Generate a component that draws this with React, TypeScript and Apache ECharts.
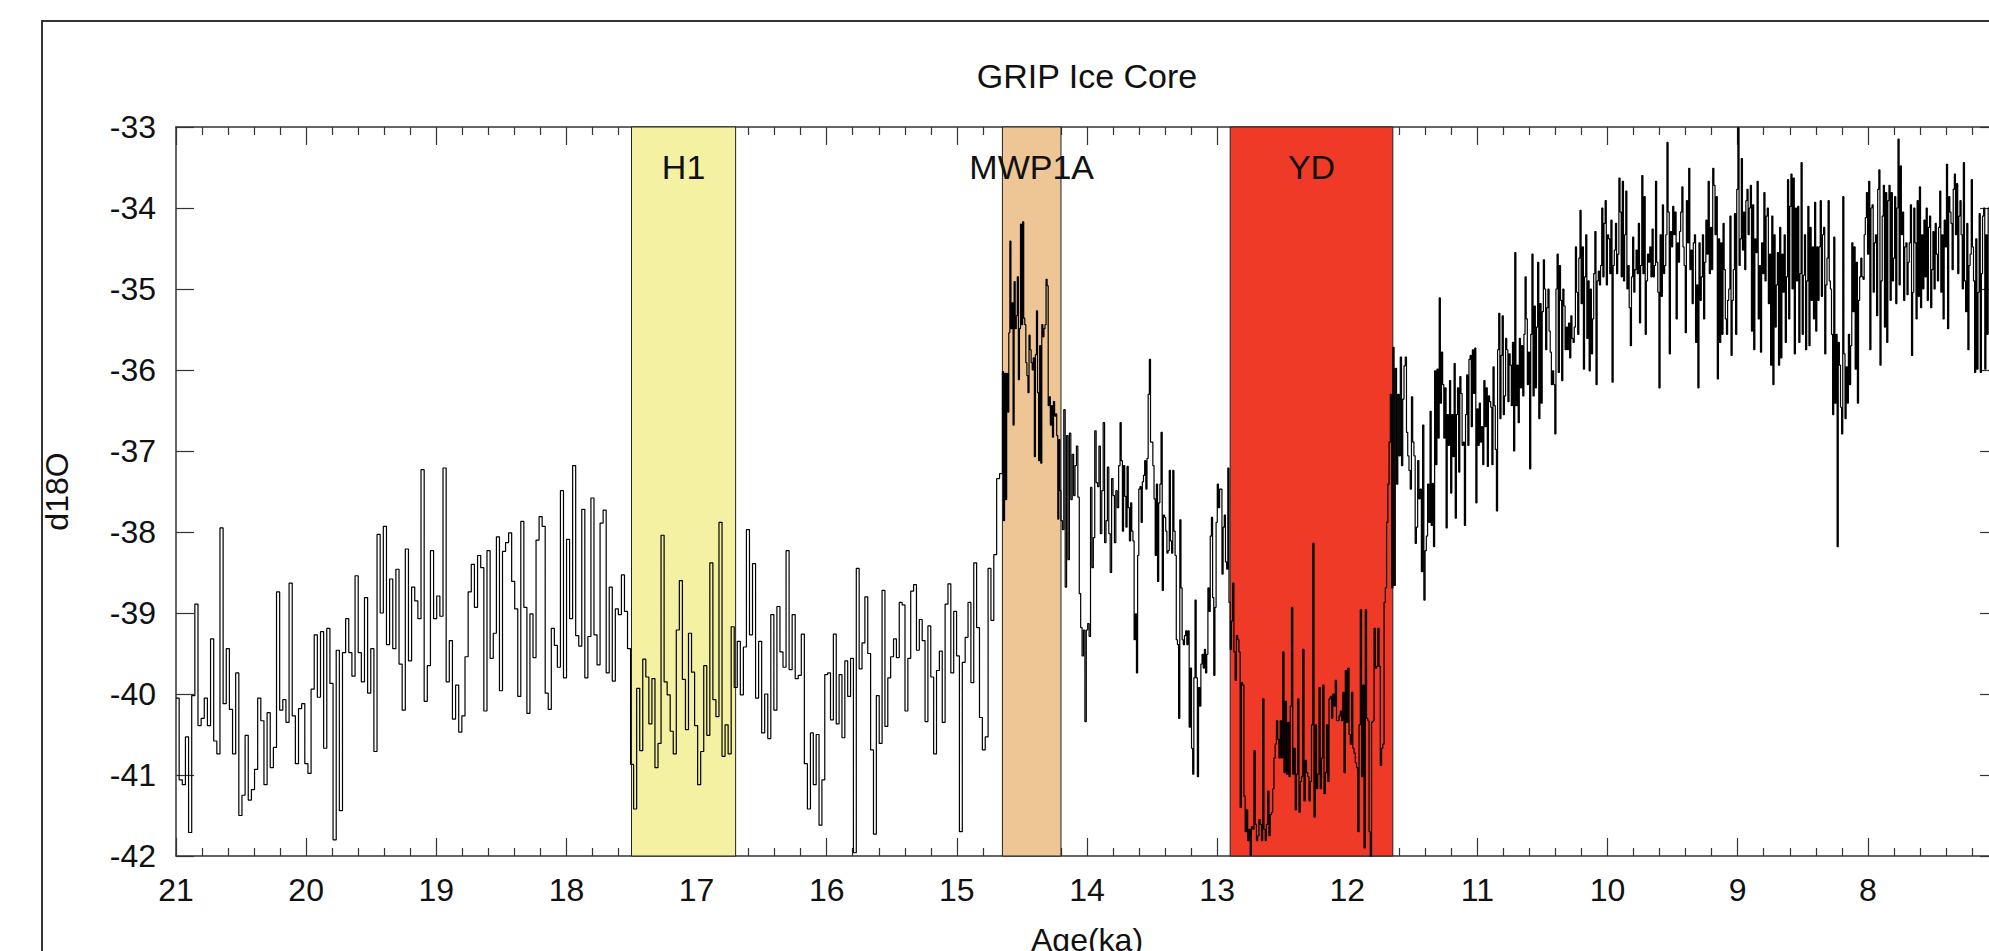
import React, { useEffect, useRef } from 'react';
import * as echarts from 'echarts';

const FONT = "'Liberation Sans', Arial, Helvetica, sans-serif";

// d18O values, grouped by age segment (ka, old -> young)
const segBounds = [21.0, 18.538, 16.125, 14.65, 14.2, 13.746, 12.9, 11.65, 11.364, 8.981, 7.067];

const segA = [
  -40.05, -41.06, -41.12, -40.53, -41.71, -40.02, -38.89, -40.39, -40.30, -40.05,
  -40.39, -39.32, -40.58, -40.74, -37.95, -40.12, -39.44, -40.19, -40.74, -39.74,
  -41.50, -41.25, -40.51, -41.31, -41.18, -40.93, -40.05, -40.33, -41.12, -40.23,
  -40.91, -40.66, -38.74, -40.20, -40.07, -40.35, -38.63, -40.27, -40.86, -40.18,
  -40.12, -40.86, -40.98, -39.94, -39.27, -40.04, -39.23, -40.67, -39.19, -39.87,
  -41.80, -39.46, -41.44, -39.49, -39.07, -39.49, -39.78, -38.54, -39.49, -39.85,
  -38.81, -39.99, -39.44, -40.71, -38.03, -39.00, -37.93, -39.39, -38.58, -39.44,
  -38.46, -39.63, -40.20, -38.21, -39.59, -38.68, -38.85, -39.07, -37.23, -40.09,
  -39.65, -38.23, -39.07, -38.79, -39.04, -37.21, -39.85, -39.34, -40.31, -39.89,
  -40.47, -40.27, -39.54, -38.74, -38.40, -38.93, -38.29, -38.44, -40.21, -38.23,
  -39.56, -39.25,
];

const segB = [
  -38.06, -39.96, -38.24, -38.13, -38.01, -38.61, -38.95, -40.03, -37.87, -38.93,
  -40.24, -39.01, -39.55, -38.10, -37.81, -37.93, -39.99, -40.19, -39.19, -39.40,
  -39.67, -37.49, -39.80, -38.09, -39.07, -37.18, -39.28, -39.41, -37.72, -39.80,
  -39.29, -37.58, -39.27, -39.64, -37.89, -37.73, -39.74, -38.68, -39.84, -38.95,
  -39.02, -38.53, -38.98, -39.44, -40.87, -41.42, -39.93, -40.70, -39.57, -39.79,
  -40.37, -39.81, -40.91, -40.61, -38.04, -39.85, -40.01, -40.46, -40.74, -39.21,
  -38.60, -39.82, -40.44, -39.25, -39.73, -40.39, -41.12, -40.71, -39.65, -40.51,
  -38.38, -40.07, -40.28, -37.88, -40.77, -40.38, -40.74, -39.17, -39.92, -39.35,
  -40.01, -39.42, -37.97, -39.27, -38.39, -40.05, -39.35, -40.48, -40.00, -40.55,
  -39.02, -40.20, -38.92, -39.48, -39.67, -38.23, -39.70, -39.02, -39.81, -39.77,
  -39.26, -40.86, -41.42,
];

const segC = [
  -40.48, -41.12, -40.50, -41.62, -41.06, -39.76, -39.74, -40.32, -39.26, -40.37,
  -39.76, -40.54, -39.59, -40.03, -39.56, -41.96, -38.45, -39.69, -39.37, -38.80,
  -39.50, -40.69, -41.73, -40.02, -40.61, -38.72, -40.40, -39.80, -39.54, -39.32,
  -39.55, -38.87, -38.90, -40.21, -39.56, -38.73, -38.65, -39.46, -39.08, -39.34,
  -40.34, -39.16, -39.79, -40.74, -39.71, -39.47, -40.35, -38.89, -38.64, -39.74,
  -38.98, -39.53, -41.70, -39.61, -39.30, -38.87, -39.86, -38.38, -39.18, -40.29,
  -40.69, -40.53, -38.45, -39.09, -38.28, -37.34, -37.28,
];

const segD = [
  -36.02, -37.86, -36.04, -37.60, -36.04, -36.52, -35.54, -34.41, -35.49, -35.17,
  -36.68, -34.91, -35.49, -35.33, -34.85, -36.12, -35.49, -34.20, -35.44, -34.17,
  -35.36, -35.44, -35.91, -36.07, -36.28, -35.57, -35.75, -35.91, -36.00, -35.85,
  -37.07, -35.81, -35.27, -36.28, -37.12, -35.70, -37.15, -35.44, -35.59, -35.49,
  -35.44, -34.88, -34.96, -36.44, -36.33, -36.68, -36.44, -36.83, -36.39, -36.57,
  -36.54, -36.81, -37.84, -36.86, -37.49,
];

const segE = [
  -37.86, -37.97, -36.49, -38.68, -36.81, -38.34, -36.78, -37.60, -37.04, -37.55,
  -37.18, -36.94, -37.57, -38.76, -39.18, -39.53, -39.21, -40.34, -39.21, -39.13,
  -39.29, -37.45, -38.44, -38.07, -36.75, -37.39, -37.44, -36.94, -38.02, -37.49,
  -36.65, -38.13, -37.86, -37.20, -38.02, -38.50, -37.34, -37.55, -38.13, -37.49,
  -37.70, -37.18,
];

const segF = [
  -36.65, -37.12, -37.99, -37.18, -37.56, -37.94, -37.19, -37.70, -38.11, -37.64,
  -37.99, -38.11, -39.33, -39.01, -39.74, -38.29, -37.47, -37.44, -37.88, -37.38,
  -37.30, -37.12, -37.47, -37.09, -36.30, -35.87, -36.89, -36.89, -37.18, -37.59,
  -38.29, -37.41, -38.61, -37.64, -37.41, -36.77, -38.72, -37.79, -37.82, -37.99,
  -38.26, -38.23, -37.24, -38.11, -38.26, -37.24, -37.99, -38.29, -39.33, -39.39,
  -40.30, -37.85, -38.69, -39.33, -39.39, -39.28, -39.22, -39.39, -39.22, -40.41,
  -39.68, -40.67, -40.99, -39.80, -38.84, -39.80, -41.02, -39.92, -40.15, -39.63,
  -39.51, -39.68, -39.45, -39.74, -39.51, -38.69, -38.98, -38.05, -37.82, -38.81,
  -39.77, -38.93, -37.88, -37.41, -37.70, -37.47, -37.47, -38.52, -37.94, -37.79,
  -38.37, -38.46, -37.21, -38.87,
];

const segG = [
  -39.45, -39.10, -38.63, -39.48, -39.83, -39.28, -39.33, -39.48, -41.40, -39.86,
  -39.89, -41.26, -41.70, -41.43, -41.81, -41.67, -41.99, -41.64, -41.67, -40.70,
  -41.61, -41.81, -41.75, -41.55, -41.61, -41.81, -40.06, -41.67, -41.81, -41.61,
  -41.20, -41.75, -41.49, -41.46, -41.17, -40.79, -40.62, -40.33, -40.56, -40.79,
  -40.33, -40.79, -39.48, -40.97, -40.09, -40.99, -40.35, -41.02, -40.15, -38.93,
  -40.99, -40.67, -41.43, -40.99, -40.06, -41.46, -41.08, -41.02, -39.45, -41.32,
  -40.82, -40.97, -41.02, -41.32, -41.08, -40.38, -38.14, -41.52, -40.38, -41.17,
  -40.99, -39.92, -41.17, -40.79, -39.89, -41.23, -40.97, -40.38, -41.08, -40.06,
  -40.03, -40.30, -40.00, -40.15, -39.83, -40.33, -40.33, -40.27, -40.21, -40.33,
  -39.98, -40.97, -39.71, -40.35, -39.68, -40.50, -40.62, -39.98, -40.67, -40.73,
  -40.85, -40.91, -41.70, -40.38, -38.96, -41.02, -39.89, -41.90, -38.96, -40.30,
  -40.33, -41.70, -42.13, -40.35, -40.33, -39.19, -39.68, -39.66, -39.19, -39.66,
  -40.88, -40.67, -40.62, -38.87, -38.69, -37.88, -37.41, -36.89, -36.30, -38.69,
];

const segH = [
  -35.72, -38.66, -35.98, -37.41, -36.30, -37.06, -35.84, -37.18, -36.36, -35.95,
  -35.84, -36.77, -37.06, -37.24, -37.47, -36.33, -36.89, -37.06, -38.14, -37.94,
  -37.12, -37.59, -37.47, -38.49, -36.68, -38.84, -38.23, -38.05, -37.41, -37.88,
];

const segI = [
  -36.51, -37.92, -37.40, -38.18, -36.01, -37.17, -35.99, -36.84, -35.11, -36.41,
  -35.78, -36.18, -36.84, -36.22, -37.95, -36.55, -36.93, -36.13, -37.52, -36.55,
  -37.07, -35.92, -37.83, -36.55, -36.22, -37.26, -36.08, -36.29, -36.93, -36.89,
  -37.92, -36.55, -36.06, -36.93, -35.87, -35.82, -36.70, -35.75, -36.29, -35.73,
  -37.64, -36.48, -36.93, -36.41, -36.89, -36.70, -37.17, -36.13, -36.70, -36.22,
  -37.19, -36.32, -36.39, -36.46, -37.17, -35.96, -36.44, -36.98, -37.74, -35.75,
  -35.30, -36.60, -35.82, -35.33, -36.55, -36.32, -35.61, -35.75, -36.39, -35.80,
  -35.94, -36.44, -35.66, -37.00, -34.55, -36.44, -35.94, -36.65, -35.61, -36.22,
  -35.70, -36.32, -35.56, -34.85, -35.37, -36.18, -35.78, -37.22, -35.56, -34.57,
  -36.32, -35.21, -36.22, -35.47, -34.67, -36.60, -35.18, -36.41, -35.28, -34.64,
  -35.00, -35.75, -35.23, -35.00, -35.52, -35.78, -36.18, -36.01, -36.18, -36.79,
  -35.00, -34.57, -36.03, -34.71, -35.14, -36.13, -35.00, -35.21, -35.75, -35.47,
  -35.75, -35.42, -35.85, -35.33, -35.61, -35.66, -35.47, -34.48, -35.04, -35.56,
  -34.62, -34.03, -35.18, -34.48, -35.99, -34.85, -34.33, -35.61, -34.90, -36.01,
  -35.00, -35.80, -35.37, -34.81, -34.29, -36.18, -34.90, -34.78, -34.95, -34.71,
  -34.00, -34.85, -34.19, -33.91, -34.95, -34.33, -34.38, -34.81, -34.15, -36.15,
  -34.71, -34.52, -34.19, -34.81, -34.57, -33.63, -34.05, -34.85, -33.67, -34.90,
  -34.33, -33.79, -35.00, -34.71, -35.23, -35.70, -34.85, -34.36, -35.04, -34.76,
  -34.52, -34.81, -34.19, -35.42, -34.71, -33.60, -34.81, -33.86, -35.56, -34.90,
  -34.57, -34.67, -34.48, -34.85, -34.26, -34.85, -34.71, -33.67, -34.67, -35.04,
  -36.22, -34.33, -35.09, -33.96, -34.81, -34.71, -34.33, -33.19, -34.05, -35.80,
  -34.29, -34.48, -33.98, -34.33, -34.05, -35.37, -34.43, -34.67, -34.29, -34.05,
  -33.74, -34.48, -34.71, -35.54, -33.91, -34.43, -33.51, -34.76, -34.52, -35.18,
  -34.43, -34.33, -35.66, -34.95, -36.22, -34.43, -35.14, -34.85, -34.33, -35.37,
  -34.67, -34.15, -34.57, -33.67, -34.81, -34.24, -34.76, -33.51, -33.72, -34.33,
  -33.86, -36.11, -34.38, -35.66, -34.43, -35.56, -34.19, -34.76, -35.37, -35.56,
  -35.14, -35.00, -34.10, -35.82, -35.14, -34.76, -34.07, -35.56, -33.77, -33.01,
  -34.71,
];

const segJ = [
  -34.38, -33.39, -34.52, -34.05, -34.76, -33.91, -33.77, -34.33, -34.00, -33.72,
  -35.52, -33.96, -35.75, -34.38, -34.55, -33.67, -35.37, -34.71, -35.78, -34.43,
  -34.81, -33.81, -34.90, -34.10, -34.00, -35.18, -34.57, -35.94, -34.10, -36.18,
  -34.33, -35.47, -34.95, -34.55, -35.94, -34.24, -35.85, -34.57, -35.04, -34.33,
  -35.66, -34.85, -33.65, -35.37, -33.98, -33.58, -35.00, -33.63, -35.80, -34.00,
  -34.90, -33.98, -35.66, -34.81, -33.44, -35.56, -34.83, -34.33, -35.75, -34.90,
  -33.98, -35.70, -34.24, -35.14, -34.48, -35.37, -33.93, -35.52, -34.48, -35.14,
  -34.48, -33.91, -35.09, -34.33, -34.24, -35.80, -34.95, -34.62, -33.91, -34.90,
  -35.00, -35.56, -36.55, -34.36, -36.41, -35.56, -38.18, -35.66, -35.94, -36.46,
  -36.79, -33.86, -35.80, -36.60, -35.96, -36.41, -35.56, -36.18, -35.70, -34.43,
  -35.28, -34.48, -35.99, -34.67, -36.41, -35.14, -34.85, -34.62, -34.85, -34.88,
  -34.33, -34.12, -33.81, -34.57, -33.67, -35.75, -34.00, -33.96, -35.04, -34.43,
  -34.33, -35.33, -33.77, -33.53, -35.94, -34.90, -34.10, -33.72, -35.47, -33.81,
  -35.66, -33.91, -33.72, -35.14, -33.81, -34.90, -34.62, -33.86, -35.18, -34.00,
  -33.15, -34.95, -33.48, -34.33, -34.05, -35.14, -34.48, -34.43, -35.07, -34.67,
  -34.43, -33.96, -35.82, -35.04, -34.00, -34.43, -35.37, -33.91, -35.09, -33.74,
  -35.23, -34.33, -35.00, -34.15, -34.85, -34.00, -35.14, -34.24, -34.10, -35.23,
  -34.76, -34.29, -35.00, -34.19, -34.57, -34.90, -34.24, -33.79, -35.04, -34.33,
  -35.37, -34.15, -34.48, -33.46, -35.49, -33.86, -34.05, -34.19, -34.76, -33.77,
  -33.58, -34.33, -33.70, -34.81, -34.10, -33.91, -34.33, -35.00, -33.44, -34.90,
  -35.28, -34.19, -35.75, -34.71, -34.57, -33.65, -34.48, -34.90, -36.03, -34.38,
  -35.99, -35.04, -34.07, -36.03, -34.81, -34.10, -34.00, -35.99, -34.33, -35.56,
  -34.00,
];

const segments = [segA, segB, segC, segD, segE, segF, segG, segH, segI, segJ];

// shaded intervals
const bandNames = ['H1', 'MWP1A', 'YD'];
const bandStart = [17.5, 14.65, 12.9];
const bandEnd = [16.7, 14.2, 11.65];
const bandColors = ['#f4f1a3', '#eec595', '#ef3a28'];

// axis ranges
const yMin = -42;
const yMax = -33;
const xMin = 7;
const xMax = 21;

function buildSteps(): [number, number][] {
  const pts: [number, number][] = [];
  segments.forEach((vals, k) => {
    const s = segBounds[k];
    const e = segBounds[k + 1];
    const w = (e - s) / vals.length;
    vals.forEach((v, i) => pts.push([s + i * w, v]));
  });
  const last = segments[segments.length - 1];
  pts.push([segBounds[segBounds.length - 1], last[last.length - 1]]);
  return pts;
}

export default function App() {
  const ref = useRef<HTMLDivElement>(null);

  useEffect(() => {
    if (!ref.current) return;
    const chart = echarts.init(ref.current, null, { renderer: 'svg' });
    const axisColor = '#333';
    const tickStyle = { color: axisColor, width: 1.2 };
    const xCommon = {
      type: 'value',
      min: xMin,
      max: xMax,
      interval: 1,
      inverse: true,
      axisLine: { show: true, onZero: false, lineStyle: { color: axisColor, width: 1.5 } },
      axisTick: { show: true, inside: true, length: 18, lineStyle: tickStyle },
      minorTick: { show: true, splitNumber: 5, length: 8, lineStyle: tickStyle },
      splitLine: { show: false },
      minorSplitLine: { show: false },
    };
    const yCommon = {
      type: 'value',
      min: yMin,
      max: yMax,
      interval: 1,
      axisLine: { show: true, onZero: false, lineStyle: { color: axisColor, width: 1.5 } },
      axisTick: { show: true, inside: true, length: 18, lineStyle: tickStyle },
      splitLine: { show: false },
    };
    const bandData = bandNames.map((n, i) => [
      {
        name: n,
        xAxis: bandStart[i],
        itemStyle: { color: bandColors[i], borderColor: '#222', borderWidth: 1 },
      },
      { xAxis: bandEnd[i] },
    ]);
    chart.setOption({
      animation: false,
      backgroundColor: '#ffffff',
      textStyle: { fontFamily: FONT },
      title: {
        text: 'GRIP Ice Core',
        left: 1087,
        top: 59,
        textAlign: 'center',
        padding: 0,
        textStyle: { fontSize: 34, fontWeight: 'normal', color: '#111', fontFamily: FONT },
      },
      grid: {
        left: 176,
        top: 127,
        width: 1822,
        height: 729,
        containLabel: false,
        outerBoundsMode: 'none',
      },
      xAxis: [
        {
          ...xCommon,
          position: 'bottom',
          axisLabel: {
            show: true,
            fontSize: 32,
            color: '#111',
            margin: 18,
            fontFamily: FONT,
            showMinLabel: false,
            showMaxLabel: true,
          },
          name: 'Age(ka)',
          nameLocation: 'middle',
          nameGap: 68,
          nameTextStyle: { fontSize: 32, color: '#111', fontFamily: FONT },
        },
        { ...xCommon, position: 'top', axisLabel: { show: false } },
      ],
      yAxis: [
        {
          ...yCommon,
          position: 'left',
          axisLabel: { show: true, fontSize: 32, color: '#111', margin: 20, fontFamily: FONT },
          name: 'd18O',
          nameLocation: 'middle',
          nameGap: 103,
          nameRotate: 90,
          nameTextStyle: { fontSize: 32, color: '#111', fontFamily: FONT },
        },
        { ...yCommon, position: 'right', axisLabel: { show: false } },
      ],
      series: [
        {
          type: 'line',
          name: 'GRIP d18O',
          xAxisIndex: 0,
          yAxisIndex: 0,
          data: buildSteps(),
          step: 'end',
          symbol: 'none',
          showSymbol: false,
          clip: true,
          silent: true,
          lineStyle: { color: '#000', width: 1.2 },
          z: 3,
          markArea: {
            silent: true,
            label: {
              show: true,
              position: 'insideTop',
              distance: 23,
              fontSize: 34,
              color: '#111',
              fontFamily: FONT,
            },
            data: bandData,
          },
        },
      ],
      graphic: [
        {
          type: 'rect',
          shape: { x: 42, y: 21, width: 2200, height: 1200 },
          style: { fill: 'none', stroke: '#333', lineWidth: 2 },
          silent: true,
        },
      ],
    });
    return () => chart.dispose();
  }, []);

  return (
    <div
      ref={ref}
      style={{ position: 'fixed', left: 0, top: 0, width: 1989, height: 951, background: '#fff' }}
    />
  );
}
